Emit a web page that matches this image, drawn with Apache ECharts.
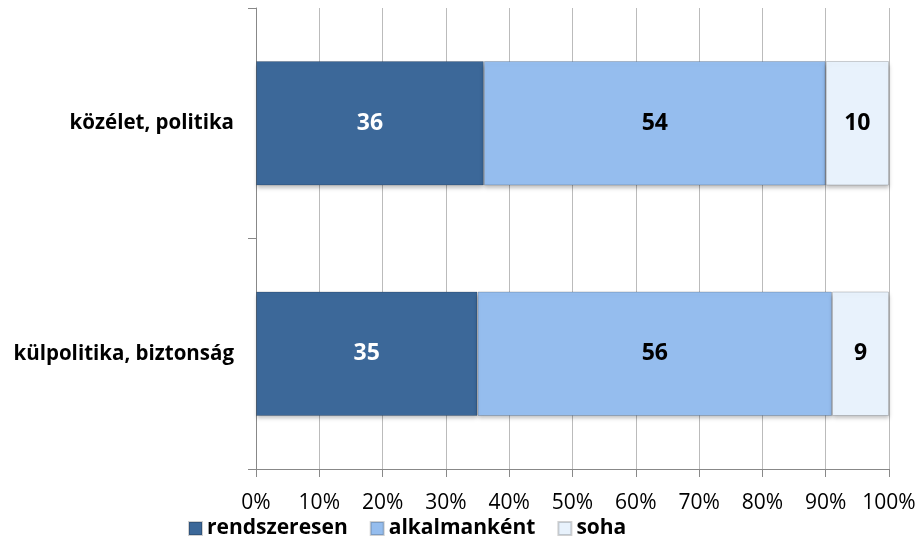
<!DOCTYPE html>
<html><head><meta charset="utf-8">
<script src="https://cdn.jsdelivr.net/npm/echarts@6/dist/echarts.min.js"></script>
<style>html,body{margin:0;padding:0;background:#fff}#c{width:922px;height:544px}</style>
</head><body><div id="c"></div>
<script>
const categories = ['külpolitika, biztonság', 'közélet, politika'];
const seriesNames = ['rendszeresen', 'alkalmanként', 'soha'];
const rendszeresen = [35, 36];
const alkalmankent = [56, 54];
const soha = [9, 10];
const tickValues = [0,10,20,30,40,50,60,70,80,90,100];

const font = 'Open Sans';
const colors = ['#3C6899', '#95BDEE', '#E8F2FC'];
const labelColors = ['#ffffff', '#000000', '#000000'];
const dataArr = [rendszeresen, alkalmankent, soha];

const chart = echarts.init(document.getElementById('c'));
chart.setOption({
  animation: false,
  grid: { left: 256, right: 33, top: 8, bottom: 75, containLabel: false },
  legend: {
    bottom: 0, left: 183,
    itemWidth: 13, itemHeight: 13, itemGap: 22,
    icon: 'rect',
    textStyle: { fontFamily: font, fontWeight: 'bold', fontSize: 21, color: '#000' },
    data: seriesNames
  },
  xAxis: {
    type: 'value', min: 0, max: 100, interval: 10,
    axisLine: { show: true, lineStyle: { color: '#888', width: 1 } },
    axisTick: { show: true, length: 8, lineStyle: { color: '#888' } },
    splitLine: { show: true, lineStyle: { color: '#bbb', width: 1 } },
    axisLabel: { formatter: '{value}%', fontFamily: font, fontSize: 21, color: '#000', margin: 24 }
  },
  yAxis: {
    type: 'category', data: categories,
    axisLine: { show: true, lineStyle: { color: '#888' } },
    axisTick: { show: true, length: 8, lineStyle: { color: '#888' } },
    axisLabel: { fontFamily: font, fontWeight: 'bold', fontSize: 20.5, color: '#000', margin: 22 }
  },
  series: seriesNames.map((n, i) => ({
    name: n, type: 'bar', stack: 'total', barWidth: '54%',
    data: dataArr[i],
    itemStyle: {
      color: colors[i],
      borderColor: 'rgba(0,0,0,0.18)', borderWidth: 1,
      shadowColor: 'rgba(0,0,0,0.25)', shadowBlur: 4, shadowOffsetY: 3
    },
    label: { show: true, position: 'inside', fontFamily: font, fontWeight: 'bold', fontSize: 23, color: labelColors[i] }
  }))
});
</script></body></html>
